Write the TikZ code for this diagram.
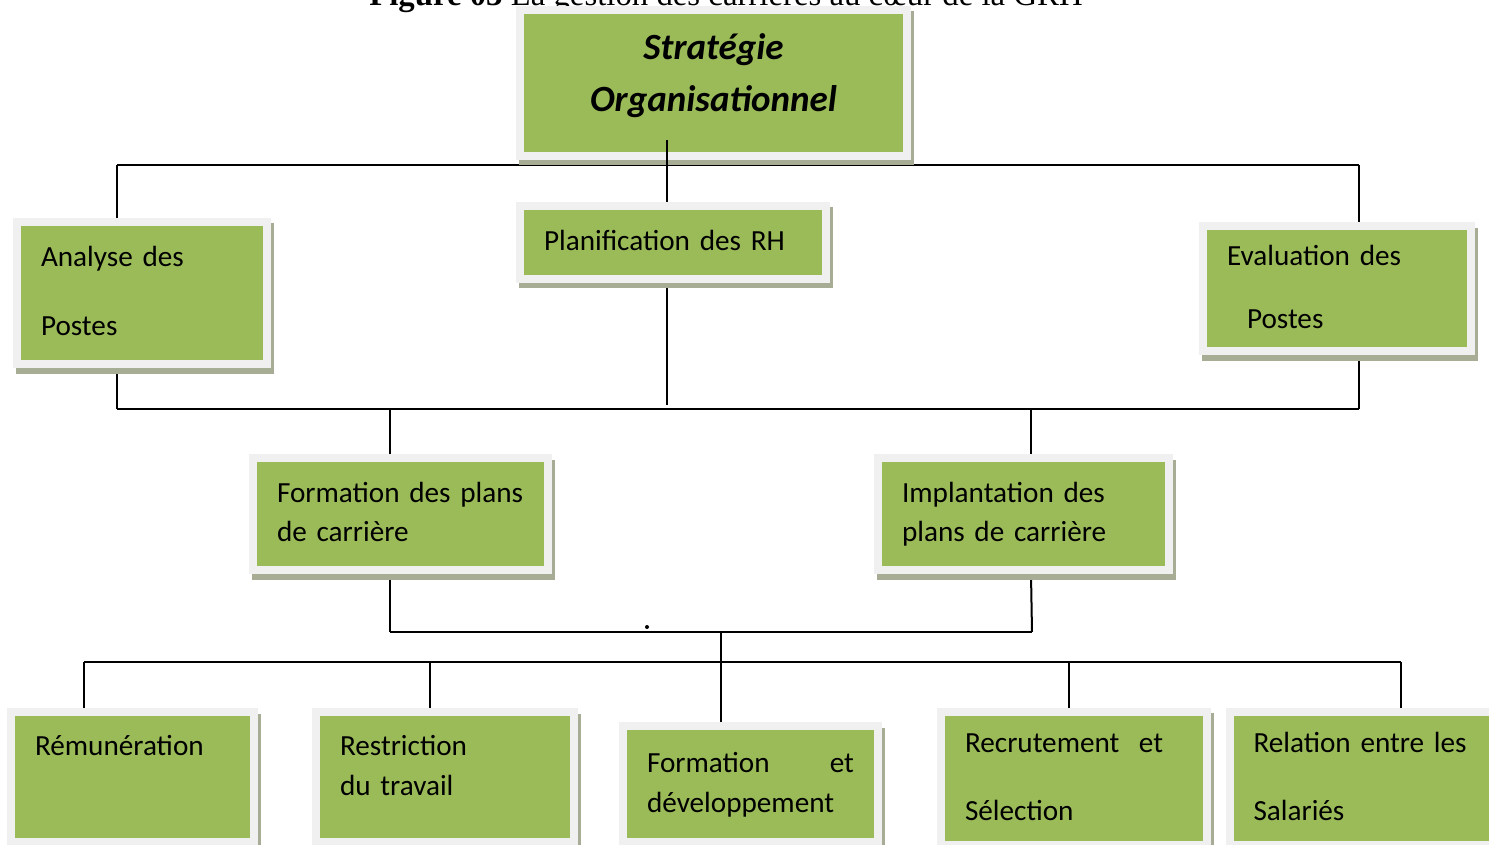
\documentclass[tikz,border=0pt]{standalone}
\usepackage{fontspec}
\setmainfont{Carlito}
\newfontfamily\capfont{Liberation Serif}
\usetikzlibrary{backgrounds}
\definecolor{boxgreen}{HTML}{9BBB59}
\definecolor{boxframe}{HTML}{F0F0F0}
\definecolor{boxshadow}{HTML}{A6AD94}
\tikzset{
  gbox/.style={fill=boxgreen, draw=boxframe, line width=4pt, inner xsep=12pt, inner ysep=0pt,
    align=left, font=\fontsize{14.6}{20}\selectfont,
    preaction={draw=boxshadow, fill=boxshadow, line width=4pt,
      transform canvas={xshift=1.5pt, yshift=-2.75pt}}},
  titlebox/.style={gbox, align=center, font=\fontsize{18.5}{26}\selectfont\bfseries\itshape},
  tline/.style={draw=black, line width=1pt},
}
\begin{document}
\begin{tikzpicture}[x=0.5pt, y=-0.5pt]
  \useasboundingbox (0,0) rectangle (1489,845);

  \node[anchor=base, font=\capfont\fontsize{16.4}{20}\selectfont] (caption) at (726,6)
    {\textbf{Figure 03} La gestion des carrières au cœur de la GRH};

  \node[titlebox, text width=169.5pt, minimum height=73pt] (strat) at (713.5,83)
    {\strut Stratégie\\Organisationnel\\[-18pt]\strut};

  % junctions of the tree
  \coordinate (stem) at (667,140);
  \coordinate (tb-l) at (117,165);
  \coordinate (tb-r) at (1359,165);
  \coordinate (mb-l) at (117,409);
  \coordinate (mb-r) at (1359,409);
  \coordinate (mb-a) at (390,409);
  \coordinate (mb-b) at (1031,409);
  \coordinate (lb-l) at (390,632);
  \coordinate (lb-r) at (1032,632);
  \coordinate (lb-m) at (721,632);
  \coordinate (bb-l) at (84,662);
  \coordinate (bb-r) at (1401,662);
  \coordinate (bb-a) at (430,662);
  \coordinate (bb-b) at (1069,662);

  \draw[tline] (stem) -- ([yshift=2pt]stem |- mb-l);

  \node[gbox, text width=101pt, minimum height=71pt] (analyse) at (142,293)
    {\strut Analyse des\\[14.5pt]Postes\strut};
  \node[gbox, text width=129pt, minimum height=36.5pt] (plan) at (673,242.5)
    {\strut Planification des RH\strut};
  \node[gbox, text width=110pt, minimum height=62.5pt] (eval) at (1337,289)
    {\strut Evaluation des\\[11.5pt]\hspace*{10pt}Postes\strut};

  \node[gbox, text width=123.5pt, minimum height=56pt] (fplans) at (400.5,514)
    {\strut Formation des plans\\de carrière\strut};
  \node[gbox, text width=121.5pt, minimum height=56pt] (impl) at (1023.5,514)
    {\strut Implantation des\\plans de carrière\strut};

  \node[gbox, text width=97.5pt, minimum height=65pt] (remun) at (132.5,777)
    {\strut Rémunération\\[10pt]\strut};
  \node[gbox, text width=105pt, minimum height=65pt] (restr) at (445,777)
    {\strut Restriction\\du travail\\[-10pt]\strut};
  \node[gbox, text width=103.5pt, minimum height=58pt] (fdev) at (750.5,784)
    {\strut Formation\hfill et\\développement\strut};
  \node[gbox, text width=109pt, minimum height=66.5pt] (recru) at (1074,778)
    {\strut Recrutement\ \ et\\[14pt]Sélection\strut};
  \node[gbox, text width=112pt, minimum height=66.5pt] (relat) at (1365.5,778)
    {\strut Relation entre les\\[14pt]Salariés\strut};

  \fill (647,627) circle (1pt);

  \begin{pgfonlayer}{background}
    \draw[tline] (tb-l) -- (tb-r);
    \draw[tline] (tb-l) -- (tb-l |- analyse.north);
    \draw[tline] (tb-r) -- (tb-r |- eval.north);
    \draw[tline] (tb-l |- analyse.south) -- (mb-l);
    \draw[tline] (tb-r |- eval.south) -- (mb-r);
    \draw[tline] (mb-l) -- (mb-r);
    \draw[tline] (mb-a) -- (mb-a |- fplans.north);
    \draw[tline] (mb-b) -- (mb-b |- impl.north);
    \draw[tline] (mb-a |- fplans.south) -- (lb-l);
    \draw[tline] (mb-b |- impl.south) -- (lb-r);
    \draw[tline] (lb-l) -- (lb-r);
    \draw[tline] (lb-m) -- (lb-m |- fdev.north);
    \draw[tline] (bb-l) -- (bb-r);
    \draw[tline] (bb-l) -- (bb-l |- remun.north);
    \draw[tline] (bb-a) -- (bb-a |- restr.north);
    \draw[tline] (bb-b) -- (bb-b |- recru.north);
    \draw[tline] (bb-r) -- (bb-r |- relat.north);
  \end{pgfonlayer}
\end{tikzpicture}
\end{document}
